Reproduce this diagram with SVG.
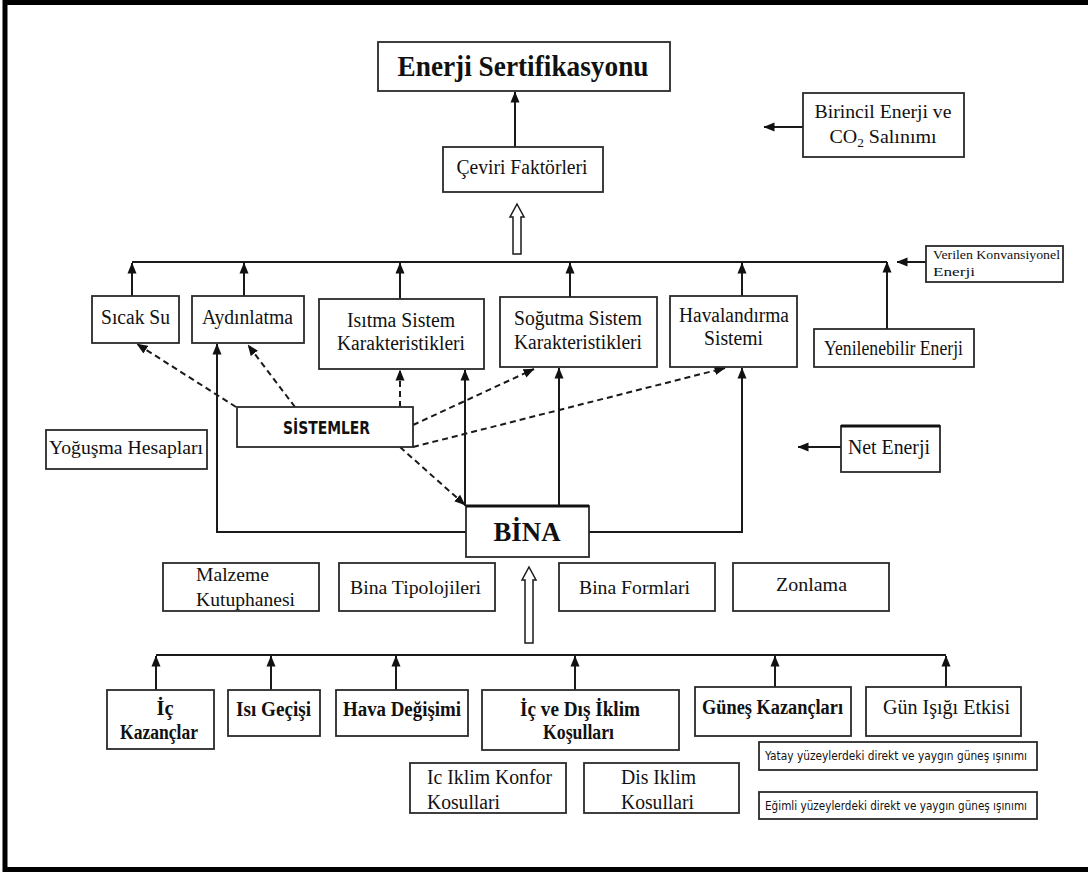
<svg xmlns="http://www.w3.org/2000/svg" width="1088" height="872" viewBox="0 0 1088 872">
<defs>
<style>
.box{fill:#fff;stroke:#2a2a2a;stroke-width:1.8}
.t{font-family:"Liberation Serif","Times New Roman",serif;fill:#111;text-anchor:middle}
.s{text-anchor:start}
.b{font-weight:bold}
.sans{font-family:"DejaVu Sans","Liberation Sans",sans-serif}
.ln{stroke:#1a1a1a;stroke-width:2;fill:none}
.dash{stroke-dasharray:6 4}
.hol{fill:#fff;stroke:#1a1a1a;stroke-width:1.5}
</style>
<marker id="ah" viewBox="0 0 11 11" refX="10.5" refY="5.5" markerWidth="11" markerHeight="11" markerUnits="userSpaceOnUse" orient="auto">
<path d="M0,1 L11,5.5 L0,10 z" fill="#111"/>
</marker>
</defs>
<rect width="1088" height="872" fill="#fff"/>
<path d="M5,872 L5,2.5 L1088,2.5 M5,869.5 L1088,869.5" fill="none" stroke="#000" stroke-width="5"/>

<g id="connectors">
<line class="ln" x1="515" y1="147" x2="515" y2="92" marker-end="url(#ah)"/>
<path class="hol" d="M517,204 L524,217 L521,217 L521,254 L513,254 L513,217 L510,217 Z"/>
<line class="ln" x1="132" y1="262" x2="887" y2="262"/>
<line class="ln" x1="132" y1="296" x2="132" y2="263" marker-end="url(#ah)"/>
<line class="ln" x1="244" y1="296" x2="244" y2="263" marker-end="url(#ah)"/>
<line class="ln" x1="400" y1="299" x2="400" y2="263" marker-end="url(#ah)"/>
<line class="ln" x1="570" y1="297" x2="570" y2="263" marker-end="url(#ah)"/>
<line class="ln" x1="742" y1="296" x2="742" y2="263" marker-end="url(#ah)"/>
<line class="ln" x1="887" y1="329" x2="887" y2="262" marker-end="url(#ah)"/>
<line class="ln" x1="926" y1="262" x2="897" y2="262" marker-end="url(#ah)"/>
<line class="ln" x1="803" y1="127" x2="764" y2="127" marker-end="url(#ah)"/>
<line class="ln" x1="841" y1="447" x2="798" y2="447" marker-end="url(#ah)"/>
<polyline class="ln" points="466,532 217,532 217,344" marker-end="url(#ah)"/>
<polyline class="ln" points="589,532 742,532 742,368" marker-end="url(#ah)"/>
<line class="ln" x1="465" y1="506" x2="465" y2="370" stroke-width="2.6" marker-end="url(#ah)"/>
<line class="ln" x1="559" y1="506" x2="559" y2="368" marker-end="url(#ah)"/>
<line class="ln dash" x1="236" y1="407" x2="137" y2="344" marker-end="url(#ah)"/>
<line class="ln dash" x1="295" y1="407" x2="248" y2="345" marker-end="url(#ah)"/>
<line class="ln dash" x1="400" y1="407" x2="400" y2="370" marker-end="url(#ah)"/>
<line class="ln dash" x1="413" y1="425" x2="534" y2="369" marker-end="url(#ah)"/>
<line class="ln dash" x1="413" y1="447" x2="725" y2="368" marker-end="url(#ah)"/>
<line class="ln dash" x1="400" y1="447" x2="465" y2="505" marker-end="url(#ah)"/>
<path class="hol" d="M529,567 L536,580 L533,580 L533,643 L525,643 L525,580 L522,580 Z"/>
<line class="ln" x1="156" y1="655" x2="946" y2="655"/>
<line class="ln" x1="156" y1="690" x2="156" y2="656" marker-end="url(#ah)"/>
<line class="ln" x1="271" y1="690" x2="271" y2="656" marker-end="url(#ah)"/>
<line class="ln" x1="396" y1="690" x2="396" y2="656" marker-end="url(#ah)"/>
<line class="ln" x1="575" y1="690" x2="575" y2="656" marker-end="url(#ah)"/>
<line class="ln" x1="775" y1="687" x2="775" y2="656" marker-end="url(#ah)"/>
<line class="ln" x1="946" y1="687" x2="946" y2="656" marker-end="url(#ah)"/>
</g>

<g font-size="20.5">
<g id="enerji-sertifikasyonu"><rect class="box" x="378" y="42" width="292" height="49" stroke-width="2.2"/><text class="t b" x="523" y="76" font-size="29" textLength="251" lengthAdjust="spacingAndGlyphs">Enerji Sertifikasyonu</text></g>
<g id="ceviri"><rect class="box" x="443" y="147" width="160" height="45"/><text class="t" x="522" y="174" textLength="131" lengthAdjust="spacingAndGlyphs">Çeviri Faktörleri</text></g>
<g id="birincil"><rect class="box" x="803" y="93" width="161" height="64"/><text class="t" x="883" y="118" font-size="19.5" textLength="137" lengthAdjust="spacingAndGlyphs">Birincil Enerji ve</text><text class="t" x="883" y="143" font-size="19.5" textLength="107" lengthAdjust="spacingAndGlyphs">CO<tspan font-size="13" dy="4">2</tspan><tspan dy="-4"> Salınımı</tspan></text></g>
<g id="verilen"><rect class="box" x="926" y="246" width="137" height="36" stroke-width="1.5"/><text class="t s" x="933" y="259" font-size="13.5" textLength="127" lengthAdjust="spacingAndGlyphs">Verilen Konvansiyonel</text><text class="t s" x="933" y="276" font-size="13.5" textLength="42" lengthAdjust="spacingAndGlyphs">Enerji</text></g>
<g id="sicak-su"><rect class="box" x="92" y="296" width="87" height="47"/><text class="t" x="135.5" y="324" textLength="69" lengthAdjust="spacingAndGlyphs">Sıcak Su</text></g>
<g id="aydinlatma"><rect class="box" x="192" y="296" width="112" height="47"/><text class="t" x="247.5" y="324" textLength="91" lengthAdjust="spacingAndGlyphs">Aydınlatma</text></g>
<g id="isitma"><rect class="box" x="319" y="299" width="165" height="70"/><text class="t" x="401" y="327" textLength="108" lengthAdjust="spacingAndGlyphs">Isıtma Sistem</text><text class="t" x="401" y="350" textLength="128" lengthAdjust="spacingAndGlyphs">Karakteristikleri</text></g>
<g id="sogutma"><rect class="box" x="500" y="297" width="157" height="70"/><text class="t" x="578" y="325" textLength="128" lengthAdjust="spacingAndGlyphs">Soğutma Sistem</text><text class="t" x="578" y="349" textLength="128" lengthAdjust="spacingAndGlyphs">Karakteristikleri</text></g>
<g id="havalandirma"><rect class="box" x="670" y="296" width="127" height="71"/><text class="t" x="734" y="322" textLength="110" lengthAdjust="spacingAndGlyphs">Havalandırma</text><text class="t" x="733.5" y="345" textLength="59" lengthAdjust="spacingAndGlyphs">Sistemi</text></g>
<g id="yenilenebilir"><rect class="box" x="814" y="329" width="160" height="38"/><text class="t" x="893.5" y="355" textLength="139" lengthAdjust="spacingAndGlyphs">Yenilenebilir Enerji</text></g>
<g id="sistemler"><rect class="box" x="237" y="407" width="176" height="40"/><text class="t b sans" x="326.5" y="434" font-size="17" textLength="87" lengthAdjust="spacingAndGlyphs">SİSTEMLER</text></g>
<g id="yogusma"><rect class="box" x="46" y="430" width="161" height="39"/><text class="t" x="126" y="454" font-size="19.5" textLength="154" lengthAdjust="spacingAndGlyphs">Yoğuşma Hesapları</text></g>
<g id="net-enerji"><rect class="box" x="841" y="426" width="99" height="46"/><line x1="841" y1="426" x2="940" y2="426" stroke="#111" stroke-width="3"/><text class="t" x="889" y="454" textLength="82" lengthAdjust="spacingAndGlyphs">Net Enerji</text></g>
<g id="bina"><rect class="box" x="466" y="506" width="123" height="51" stroke-width="2"/><line x1="466" y1="506" x2="589" y2="506" stroke="#111" stroke-width="3"/><text class="t b" x="527" y="541" font-size="28" textLength="67" lengthAdjust="spacingAndGlyphs">BİNA</text></g>
<g id="malzeme"><rect class="box" x="163" y="563" width="156" height="48"/><text class="t s" x="196" y="581" font-size="19.5" textLength="73" lengthAdjust="spacingAndGlyphs">Malzeme</text><text class="t s" x="196" y="606" font-size="19.5" textLength="99" lengthAdjust="spacingAndGlyphs">Kutuphanesi</text></g>
<g id="bina-tipolojileri"><rect class="box" x="339" y="563" width="156" height="48"/><text class="t" x="415.5" y="594" font-size="19.5" textLength="131" lengthAdjust="spacingAndGlyphs">Bina Tipolojileri</text></g>
<g id="bina-formlari"><rect class="box" x="559" y="563" width="156" height="48"/><text class="t" x="634.5" y="594" font-size="19.5" textLength="111" lengthAdjust="spacingAndGlyphs">Bina Formlari</text></g>
<g id="zonlama"><rect class="box" x="733" y="563" width="156" height="48"/><text class="t" x="811.5" y="591" font-size="19.5" textLength="71" lengthAdjust="spacingAndGlyphs">Zonlama</text></g>
<g id="ic-kazanclar"><rect class="box" x="107" y="690" width="107" height="59"/><text class="t b" x="165" y="715">İç</text><text class="t b" x="159" y="739" textLength="78" lengthAdjust="spacingAndGlyphs">Kazançlar</text></g>
<g id="isi-gecisi"><rect class="box" x="228" y="690" width="92" height="46"/><text class="t b" x="273.5" y="716" textLength="75" lengthAdjust="spacingAndGlyphs">Isı Geçişi</text></g>
<g id="hava-degisimi"><rect class="box" x="336" y="690" width="132" height="46"/><text class="t b" x="402" y="716" textLength="118" lengthAdjust="spacingAndGlyphs">Hava Değişimi</text></g>
<g id="ic-dis-iklim"><rect class="box" x="482" y="690" width="197" height="60"/><text class="t b" x="580" y="716" textLength="120" lengthAdjust="spacingAndGlyphs">İç ve Dış İklim</text><text class="t b" x="578.5" y="739" textLength="71" lengthAdjust="spacingAndGlyphs">Koşulları</text></g>
<g id="gunes-kazanclari"><rect class="box" x="695" y="687" width="156" height="49"/><text class="t b" x="772.5" y="714" textLength="141" lengthAdjust="spacingAndGlyphs">Güneş Kazançları</text></g>
<g id="gun-isigi"><rect class="box" x="866" y="687" width="155" height="49"/><text class="t" x="946.5" y="714" textLength="127" lengthAdjust="spacingAndGlyphs">Gün Işığı Etkisi</text></g>
<g id="ic-iklim-konfor"><rect class="box" x="410" y="763" width="156" height="50"/><text class="t s" x="427" y="784" textLength="125" lengthAdjust="spacingAndGlyphs">Ic Iklim Konfor</text><text class="t s" x="427" y="809" textLength="73" lengthAdjust="spacingAndGlyphs">Kosullari</text></g>
<g id="dis-iklim"><rect class="box" x="584" y="763" width="155" height="50"/><text class="t s" x="621" y="784" textLength="75" lengthAdjust="spacingAndGlyphs">Dis Iklim</text><text class="t s" x="621" y="809" textLength="73" lengthAdjust="spacingAndGlyphs">Kosullari</text></g>
<g id="yatay"><rect class="box" x="759" y="742" width="278" height="28" stroke-width="1.4"/><text class="t sans" x="896" y="760" font-size="11.5" textLength="262" lengthAdjust="spacingAndGlyphs">Yatay yüzeylerdeki direkt ve yaygın güneş ışınımı</text></g>
<g id="egimli"><rect class="box" x="759" y="792" width="278" height="27" stroke-width="1.4"/><text class="t sans" x="896" y="810" font-size="11.5" textLength="262" lengthAdjust="spacingAndGlyphs">Eğimli yüzeylerdeki direkt ve yaygın güneş ışınımı</text></g>
</g>
</svg>
